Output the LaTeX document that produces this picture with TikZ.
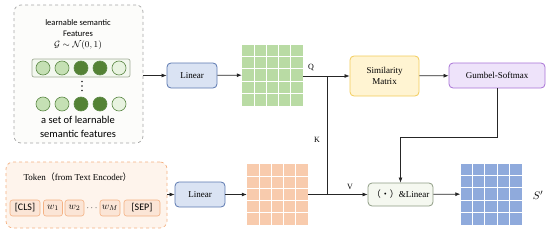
\documentclass[tikz,border=0pt]{standalone}
\usepackage{fontspec}
\setmainfont{Liberation Serif}
\newfontfamily\calib{Carlito}
\newfontfamily\cjk{Noto Sans CJK SC}
\usepackage{tikz}
\usetikzlibrary{calc,positioning,arrows.meta}
\definecolor{panelgray}{HTML}{A6A6A6}
\definecolor{panelfill}{HTML}{FCFCFA}
\definecolor{orgline}{HTML}{F4B183}
\definecolor{orgfill}{HTML}{FEF4EC}
\definecolor{orgtok}{HTML}{FBE5D6}
\definecolor{grnline}{HTML}{5E8A48}
\definecolor{rowfill}{HTML}{F3F8EF}
\definecolor{rowline}{HTML}{A3AE98}
\definecolor{lgreen}{HTML}{C5E0B4}
\definecolor{dgreen}{HTML}{548235}
\definecolor{vlgreen}{HTML}{E8F3E0}
\definecolor{qgreen}{HTML}{B9DBA4}
\definecolor{vorange}{HTML}{F8CBAD}
\definecolor{sblue}{HTML}{8FAADC}
\definecolor{linfill}{HTML}{DAE3F3}
\definecolor{linline}{HTML}{5B78B0}
\definecolor{simfill}{HTML}{FFF4D2}
\definecolor{simline}{HTML}{F2CC5A}
\definecolor{gumfill}{HTML}{EEE3FA}
\definecolor{gumline}{HTML}{A872D6}
\definecolor{dotfill}{HTML}{F5F8F0}
\definecolor{dotline}{HTML}{8E9C84}
\definecolor{wirecol}{HTML}{262626}
\tikzset{
  wire/.style={draw=wirecol, line width=0.75pt},
  arr/.style={wire, -{Latex[length=5pt,width=4pt]}},
  panel/.style={dashed, rounded corners=7pt, line width=0.7pt},
  box/.style={draw, rounded corners=4pt, line width=0.8pt, inner sep=2pt, font=\fontsize{9}{10.5}\selectfont},
  linbox/.style={box, draw=linline, fill=linfill, minimum width=50, minimum height=25},
  tok/.style={draw=orgline, fill=orgtok, rounded corners=2.5pt, line width=0.6pt, minimum height=16, inner sep=1pt, font=\calib\fontsize{10}{11}\selectfont},
  dot/.style={circle, draw=grnline, line width=0.6pt, minimum size=14, inner sep=0pt},
  rowbox/.style={draw=rowline, fill=rowfill, rounded corners=2pt, line width=0.7pt},
  mat/.style={minimum width=61, minimum height=61, inner sep=0pt},
  cellline/.style={white, line width=1pt},
  lbl/.style={font=\fontsize{8}{9}\selectfont}
}
\newcommand{\featmat}[3]{%
  \node[mat, fill=#3] (#1) at (#2) {};
  \foreach \i in {1,...,4}{%
    \draw[cellline] ($(#1.north west)!\i/5!(#1.north east)$) -- ($(#1.south west)!\i/5!(#1.south east)$);
    \draw[cellline] ($(#1.north west)!\i/5!(#1.south west)$) -- ($(#1.north east)!\i/5!(#1.south east)$);
  }}

\begin{document}
\begin{tikzpicture}[x=1pt,y=-1pt]
  \useasboundingbox (0,0) rectangle (550,233);
  % learnable semantic features
  \node[panel, draw=panelgray, fill=panelfill, minimum width=129, minimum height=138] (feat) at (78.5,74) {};
  \node[font=\calib\fontsize{8.5}{10.5}\selectfont, align=center] (ftitle) at (78,28) {learnable semantic\\Features};
  \node[font=\fontsize{9}{10}\selectfont] (fdist) at (78,45) {$\mathcal{G}\sim\mathcal{N}(0,1)$};
  \node[rowbox, minimum width=98, minimum height=18] (row1) at (81,68) {};
  \foreach \c [count=\k] in {lgreen,lgreen,dgreen,dgreen,vlgreen}
    \node[dot, fill=\c] (a\k) at (24+19*\k,68) {};
  \foreach \yy in {81.5,86,90.5}
    \fill[wirecol] (82,\yy) circle (0.9);
  \foreach \c [count=\k] in {lgreen,lgreen,dgreen,dgreen,vlgreen}
    \node[dot, fill=\c] (b\k) at (24+19*\k,104) {};
  \node[font=\calib\fontsize{10.5}{13.5}\selectfont, align=center] (fset) at (78,127) {a set of learnable\\semantic features};

  % token input
  \node[panel, draw=orgline, fill=orgfill, minimum width=161, minimum height=66] (tokp) at (86.5,195) {};
  \node[anchor=west, font=\fontsize{9}{10}\selectfont] (tokt) at (20,177) {Token{\cjk （}from Text Encoder{\cjk ）}};
  \node[tok, minimum width=30] (cls) at (25,208) {[CLS]};
  \node[tok, minimum width=19] (w1) at (53,208) {$w_1$};
  \node[tok, minimum width=19] (w2) at (74.5,208) {$w_2$};
  \node[font=\fontsize{9}{10}\selectfont] (tdots) at (92,208) {$\cdots$};
  \node[tok, minimum width=20] (wm) at (110,208) {$w_M$};
  \node[tok, minimum width=36] (sep) at (142,208) {[SEP]};

  % processing
  \node[linbox] (lin1) at (192,75.5) {Linear};
  \featmat{qmat}{272.5,75}{qgreen}
  \node[box, draw=simline, fill=simfill, minimum width=69, minimum height=40, align=center] (sim) at (384.5,76) {Similarity\\Matrix};
  \node[box, draw=gumline, fill=gumfill, minimum width=96, minimum height=25] (gum) at (497,75.5) {Gumbel-Softmax};
  \node[linbox] (lin2) at (200,194.5) {Linear};
  \featmat{omat}{277.5,194.5}{vorange}
  \node[box, draw=dotline, fill=dotfill, minimum width=65, minimum height=23] (agg) at (400.5,194.5) {{\cjk （·）}\&Linear};
  \featmat{smat}{491,194}{sblue}
  \node[font=\fontsize{11}{12}\selectfont] (sout) at (538,195) {$S'$};

  % connectors
  \draw[arr] (feat.east |- lin1) -- (lin1);
  \draw[arr] (lin1) -- (qmat);
  \coordinate (qk) at (327,0 |- sim);
  \coordinate (kv) at (qk |- agg);
  \draw[arr] (qmat.east |- sim) -- (sim.west);
  \draw[wire] (qk) -- (kv);
  \draw[arr] (omat.east |- agg) -- (agg.west);
  \draw[arr] (sim) -- (gum);
  \draw[arr] (gum.south) -- ++(0,49) -| (agg.north);
  \draw[arr] (tokp.east |- lin2) -- (lin2);
  \draw[arr] (lin2) -- (omat);
  \draw[arr] (agg) -- (smat);
  \node[lbl] (qlab) at (311,67) {Q};
  \node[lbl] (klab) at (317,140) {K};
  \node[lbl] (vlab) at (350,187) {V};
\end{tikzpicture}
\end{document}
